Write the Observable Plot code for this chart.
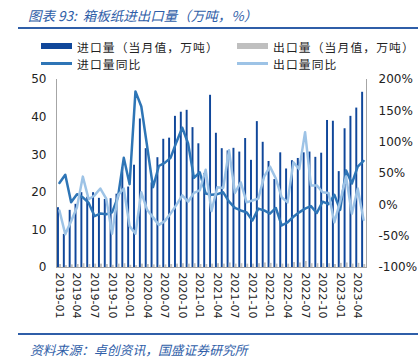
<!DOCTYPE html>
<html>
<head>
<meta charset="utf-8">
<script src="https://cdn.jsdelivr.net/npm/d3@7"></script>
<script src="https://cdn.jsdelivr.net/npm/@observablehq/plot@0.6"></script>
<style>
  html, body { margin: 0; padding: 0; background: #fff; }
  #wrap { position: relative; width: 418px; height: 363px; overflow: hidden; font-family: "Noto Sans CJK SC", sans-serif; }
  .title { position: absolute; left: 28px; top: 5px; font-size: 13.5px; line-height: 20px; font-style: italic; color: #2F5EA8; white-space: nowrap; }
  .rule { position: absolute; left: 18px; right: 0; height: 2px; background: #2F5EA8; }
  .legend { position: absolute; font-size: 11.8px; line-height: 17px; height: 17px; letter-spacing: 1.1px; color: #222; white-space: nowrap; display: flex; align-items: center; }
  .sw { display: inline-block; width: 31px; margin-right: 5px; }
  .src { position: absolute; left: 30px; top: 341px; font-size: 12.8px; line-height: 18px; font-style: italic; color: #2F5EA8; white-space: nowrap; }
  #chart { position: absolute; left: 0; top: 70px; }
</style>
</head>
<body>
<div id="wrap">
  <div class="title">图表 93:&nbsp; 箱板纸进出口量（万吨，%）</div>
  <div class="rule" style="top:27px"></div>
  <div class="legend" style="left:41px; top:37.5px"><span class="sw" style="height:6px;background:#10479A"></span>进口量（当月值，万吨）</div>
  <div class="legend" style="left:237px; top:37.5px"><span class="sw" style="height:6px;background:#BFBFBF"></span>出口量（当月值，万吨）</div>
  <div class="legend" style="left:41px; top:55px"><span class="sw" style="height:2.5px;background:#2E75B6"></span>进口量同比</div>
  <div class="legend" style="left:237px; top:55px"><span class="sw" style="height:2.5px;background:#9DC3E6"></span>出口量同比</div>
  <div id="chart"></div>
  <div class="rule" style="top:333px"></div>
  <div class="src">资料来源：卓创资讯，国盛证券研究所</div>
</div>
<script>
const months = [
  "2019-01","2019-02","2019-03","2019-04","2019-05","2019-06","2019-07","2019-08","2019-09","2019-10","2019-11","2019-12",
  "2020-01","2020-02","2020-03","2020-04","2020-05","2020-06","2020-07","2020-08","2020-09","2020-10","2020-11","2020-12",
  "2021-01","2021-02","2021-03","2021-04","2021-05","2021-06","2021-07","2021-08","2021-09","2021-10","2021-11","2021-12",
  "2022-01","2022-02","2022-03","2022-04","2022-05","2022-06","2022-07","2022-08","2022-09","2022-10","2022-11","2022-12",
  "2023-01","2023-02","2023-03","2023-04","2023-05"
];
const tickLabels = ["2019-01","2019-04","2019-07","2019-10","2020-01","2020-04","2020-07","2020-10",
  "2021-01","2021-04","2021-07","2021-10","2022-01","2022-04","2022-07","2022-10","2023-01","2023-04"];
const leftTicks = [0, 10, 20, 30, 40, 50];
const pctTicks = [-100, -50, 0, 50, 100, 150, 200];

// 进口量（当月值，万吨）
const importVol = [15.9, 8.8, 15.2, 16.8, 19.9, 18.7, 19.9, 18.4, 18.1, 18.3, 19.5, 26.5,
  21.4, 27.2, 39.5, 31.6, 22.5, 29.2, 34.1, 34.4, 40.2, 41.3, 41.8, 37.2,
  32.9, 25.0, 45.8, 35.7, 31.6, 31.0, 31.7, 30.7, 34.3, 28.5, 38.8, 33.3,
  28.2, 23.4, 30.5, 26.2, 28.4, 29.0, 30.5, 30.7, 29.3, 30.4, 39.1, 38.9,
  25.5, 36.9, 40.2, 42.4, 46.6];
// 出口量（当月值，万吨）
const exportVol = [0.8, 0.5, 0.7, 0.8, 1.0, 0.8, 0.9, 0.9, 0.8, 0.6, 0.9, 1.0,
  0.6, 0.5, 0.9, 0.8, 0.7, 0.6, 0.7, 0.8, 0.9, 1.0, 0.9, 1.0,
  0.8, 0.8, 0.9, 1.0, 0.9, 1.2, 0.9, 1.0, 0.9, 0.9, 1.0, 1.2,
  1.1, 0.9, 0.9, 0.9, 1.3, 1.2, 1.6, 1.0, 1.0, 1.0, 1.0, 0.8,
  1.1, 1.2, 0.9, 1.1, 0.8];
// 进口量同比（%）
const importYoy = [35, 48, 4, 17, 12, 3, -18, -14, -15, -12, 12, 75,
  33, 181, 157, 93, 28, 62, 67, 75, 100, 123, 98, 43,
  52, 18, 16, 17, 20, 5, -5, -9, -12, -25, -6, -9,
  -14, -5, -33, -28, -19, -12, -6, -2, -13, 5, 1, 16,
  -8, 55, 34, 61, 70];
// 出口量同比（%）
const exportYoy = [-9, -47, -26, -4, 45, 9, 15, 26, 10, -46, 15, 26,
  -34, -46, 20, -8, -20, -32, -26, -14, 0, 15, 5, 19,
  23, 56, -10, 28, 27, 87, 19, 36, 4, 7, 10, 45,
  61, 42, 12, 4, 68, 57, 116, 31, 31, 20, 19, -28,
  5, 45, -14, 26, -24];

// right axis (-100%..200%) mapped onto left axis (0..50)
const toLeft = p => (p + 100) / 6;

const data = months.map((m, i) => ({
  m, imp: importVol[i], exp: exportVol[i], iy: toLeft(importYoy[i]), ey: toLeft(exportYoy[i])
}));

const chart = Plot.plot({
  width: 418,
  height: 260,
  marginTop: 9,
  marginBottom: 63,
  marginLeft: 56,
  marginRight: 52,
  style: { fontFamily: "DejaVu Sans, sans-serif", fontSize: "12px", color: "#222", background: "transparent" },
  x: { type: "band", domain: months, paddingInner: 0, paddingOuter: 0 },
  y: { domain: [0, 50] },
  marks: [
    Plot.barY(data, { x: "m", y: "imp", fill: "#10479A", insetLeft: 1, insetRight: 2.9 }),
    Plot.barY(data, { x: "m", y: "exp", fill: "#BFBFBF", insetLeft: 3.1, insetRight: 0.8 }),
    Plot.line(data, { x: "m", y: "iy", stroke: "#2E75B6", strokeWidth: 2.5 }),
    Plot.line(data, { x: "m", y: "ey", stroke: "#9DC3E6", strokeWidth: 2.5 }),
    Plot.frame({ anchor: "left", stroke: "#A6A6A6" }),
    Plot.frame({ anchor: "right", stroke: "#A6A6A6" }),
    Plot.frame({ anchor: "bottom", stroke: "#A6A6A6" }),
    Plot.axisY(leftTicks, { anchor: "left", tickSize: 0, tickPadding: 10, label: null }),
    Plot.axisY(pctTicks.map(toLeft), { anchor: "right", tickSize: 0, tickPadding: 12, label: null,
      tickFormat: v => Math.round(v * 6 - 100) + "%" }),
    Plot.axisX(tickLabels, { anchor: "bottom", tickRotate: 90, tickSize: 0, tickPadding: 5, fontSize: 11, label: null })
  ]
});
document.getElementById("chart").appendChild(chart);
</script>
</body>
</html>
